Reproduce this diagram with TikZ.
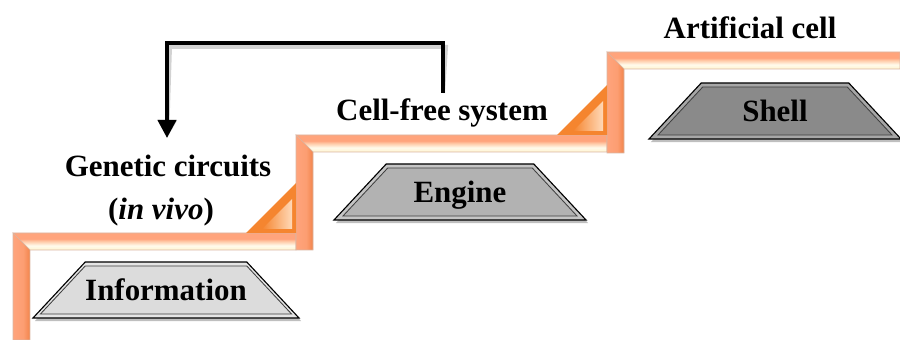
\documentclass[tikz,border=0pt]{standalone}
\usepackage{fontspec}
\setmainfont{Liberation Serif}
\usepackage{tikz}
\usetikzlibrary{arrows.meta, shapes.geometric, shadows}

\definecolor{bandPeach}{HTML}{FFA47C}
\definecolor{bandCream}{HTML}{FFF3CF}
\definecolor{bandLight}{HTML}{FFFBEC}
\definecolor{bandMid}{HTML}{FFCCAA}
\definecolor{bandOrange}{HTML}{F2844A}
\definecolor{bandEdge}{HTML}{D9B5A2}
\definecolor{fillOrange}{HTML}{F5852F}
\definecolor{fillLight}{HTML}{FFD9B8}
\definecolor{infoGray}{HTML}{DCDCDC}
\definecolor{engineGray}{HTML}{B2B2B2}
\definecolor{shellGray}{HTML}{8A8A8A}

% shadings for the step band (colours between 25bp and 75bp)
\pgfdeclareverticalshading{bandh}{100bp}{color(0bp)=(bandCream); color(25bp)=(bandCream); color(38bp)=(bandLight); color(50bp)=(bandMid); color(58bp)=(bandPeach); color(75bp)=(bandPeach); color(100bp)=(bandPeach)}
\pgfdeclarehorizontalshading{bandv}{100bp}{color(0bp)=(bandPeach); color(25bp)=(bandPeach); color(55bp)=(bandPeach!80!bandOrange); color(75bp)=(bandOrange); color(100bp)=(bandOrange)}

\tikzset{
  trapbase/.style={trapezium, trapezium angle=47, trapezium stretches body},
  stepbox/.style={trapbase, draw=black, line width=0.8pt, minimum width=6.3cm, text height=0.7cm, text depth=0.7cm},
  stepshadow/.style={trapbase, fill=black, opacity=0.25, minimum width=6.3cm, text height=0.7cm, text depth=0.7cm},
  stepinner/.style={trapbase, draw=black!75, line width=0.6pt, minimum width=5.85cm, text height=0.855cm, text depth=0.345cm},
  feedback/.style={line width=0.1cm, -{Triangle[width=0.45cm, length=0.45cm]}},
}

\begin{document}
\begin{tikzpicture}[x=0.025cm, y=-0.025cm, every node/.style={inner sep=0pt, font=\fontsize{22}{26}\selectfont\bfseries}]
	\useasboundingbox (0,0) rectangle (900,340);

	% the staircase band, one L per step
	\foreach \xa/\ya/\xb/\yb in {13/233/296/340, 296/135/607/250, 607/52/900/153} {
		\shadedraw[shading=bandh, draw=bandEdge, thin] (\xa,\ya) -- (\xb,\ya) -- (\xb,\ya+17) -- (\xa+17,\ya+17) -- cycle;
		\shadedraw[shading=bandv, draw=bandEdge, thin] (\xa,\yb) -- (\xa,\ya) -- (\xa+17,\ya+17) -- (\xa+17,\yb) -- cycle;
	}
	% corner fillets
	\foreach \xc/\yc in {296/233, 607/135} {
		\fill[fillOrange] (\xc-50,\yc) -- (\xc,\yc) -- (\xc,\yc-50) -- cycle;
		\shade[left color=fillOrange, right color=fillLight] (\xc-34,\yc-4) -- (\xc-4,\yc-4) -- (\xc-4,\yc-34) -- cycle;
	}

	% building blocks
	\foreach \name/\x/\y/\col/\txt in {info/166/290/infoGray/Information, engine/460/192/engineGray/Engine, shell/775/111/shellGray/Shell} {
		\node[stepshadow] at (\x+2,\y+3) {\phantom{\txt}};
		\node[stepbox, fill=\col!75!white] (\name) at (\x,\y) {\phantom{\txt}};
		\node[stepinner, fill=\col] (\name\space text) at (\name.center) {\txt};
	}

	% stage labels
	\node (genetic) at (168,166) {Genetic circuits};
	\node (invivo) at (161,212) {(\textit{in vivo})};
	\node (cellfree) at (442,113) {Cell-free system};
	\node (artificial) at (750,28) {Artificial cell};

	% feedback arrow
	\coordinate (loop start) at (443,93);
	\coordinate (loop end) at (167,138);
	\draw[feedback, black!35, opacity=0.5, shift={(3,4)}] (loop start) -- (443,43) -- (167,43) -- (loop end);
	\draw[feedback] (loop start) -- (443,43) -- (167,43) -- (loop end);

\end{tikzpicture}
\end{document}
